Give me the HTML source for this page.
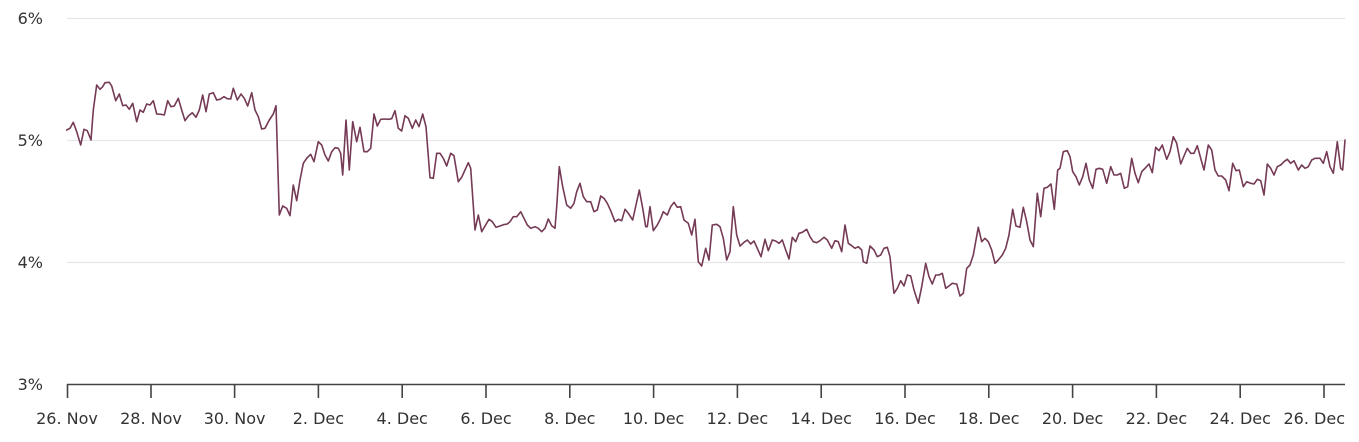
<!DOCTYPE html>
<html>
<head>
<meta charset="utf-8">
<style>
  html, body { margin: 0; padding: 0; background: #ffffff; }
  body { width: 1359px; height: 442px; overflow: hidden; }
  svg { display: block; }
  text { font-family: "DejaVu Sans", "Liberation Sans", sans-serif; font-size: 16px; fill: #333333; }
</style>
</head>
<body>
<svg width="1359" height="442" viewBox="0 0 1359 442" xmlns="http://www.w3.org/2000/svg">
  <rect x="0" y="0" width="1359" height="442" fill="#ffffff"/>
  <g stroke="#e6e6e6" stroke-width="1.2" fill="none">
    <line x1="67" y1="18.5" x2="1345" y2="18.5"/>
    <line x1="67" y1="140.5" x2="1345" y2="140.5"/>
    <line x1="67" y1="262.5" x2="1345" y2="262.5"/>
  </g>
  <g text-anchor="end">
    <text x="43" y="24">6%</text>
    <text x="43" y="146">5%</text>
    <text x="43" y="268">4%</text>
    <text x="43" y="390">3%</text>
  </g>
  <text transform="translate(-1.5,200) rotate(-90)" text-anchor="middle" font-size="14">Yield</text>
  <g stroke="#444444" stroke-width="1.6" fill="none">
    <line x1="67" y1="384.5" x2="1345" y2="384.5"/>
    <line x1="67.5" y1="384" x2="67.5" y2="398"/>
    <line x1="151" y1="384" x2="151" y2="398"/>
    <line x1="234.6" y1="384" x2="234.6" y2="398"/>
    <line x1="318.4" y1="384" x2="318.4" y2="398"/>
    <line x1="402.2" y1="384" x2="402.2" y2="398"/>
    <line x1="486" y1="384" x2="486" y2="398"/>
    <line x1="569.8" y1="384" x2="569.8" y2="398"/>
    <line x1="653.6" y1="384" x2="653.6" y2="398"/>
    <line x1="737.4" y1="384" x2="737.4" y2="398"/>
    <line x1="821.2" y1="384" x2="821.2" y2="398"/>
    <line x1="905" y1="384" x2="905" y2="398"/>
    <line x1="988.8" y1="384" x2="988.8" y2="398"/>
    <line x1="1072.6" y1="384" x2="1072.6" y2="398"/>
    <line x1="1156.4" y1="384" x2="1156.4" y2="398"/>
    <line x1="1240.2" y1="384" x2="1240.2" y2="398"/>
    <line x1="1324" y1="384" x2="1324" y2="398"/>
  </g>
  <g text-anchor="middle">
    <text x="67" y="424">26. Nov</text>
    <text x="151" y="424">28. Nov</text>
    <text x="234.6" y="424">30. Nov</text>
    <text x="318.4" y="424">2. Dec</text>
    <text x="402.2" y="424">4. Dec</text>
    <text x="486" y="424">6. Dec</text>
    <text x="569.8" y="424">8. Dec</text>
    <text x="653.6" y="424">10. Dec</text>
    <text x="737.4" y="424">12. Dec</text>
    <text x="821.2" y="424">14. Dec</text>
    <text x="905" y="424">16. Dec</text>
    <text x="988.8" y="424">18. Dec</text>
    <text x="1072.6" y="424">20. Dec</text>
    <text x="1156.4" y="424">22. Dec</text>
    <text x="1240.2" y="424">24. Dec</text>
  </g>
  <text x="1345" y="424" text-anchor="end">26. Dec</text>
  <polyline fill="none" stroke="#753a55" stroke-width="1.6" stroke-linejoin="round" stroke-linecap="round"
    points="66.7,130 70,128.3 73.3,122.3 76.7,131.7 80.7,145 84,129.3 87.3,130.7 91,140 93.3,110 96.7,85 100,89.3 102.7,86.7 105,82.7 109.3,82.3 111.7,86 115.7,100.7 119.3,94 122.7,105.7 126,105 129.3,109.3 132.7,103.3 136.7,121.7 140,110 143.3,112.3 146.7,104 150,105 153.3,100.7 156.7,114 161,114.3 164.3,115 167.7,100.7 171,106.7 174.3,106 178.3,98.3 181.7,110 185,120.7 188.3,116 192.3,112.7 196,117.3 199.3,110 202.7,95 206,111.7 209.3,94 213.3,92.7 216.7,100 220,99.3 224,96.7 227.3,98.7 230.7,99 233.3,88.3 237.3,100 241,94 244.3,98.3 247.7,106 251.7,92.7 255,110 258.3,116.7 261.7,129 265,128.3 269.3,120 273.3,114 276,105.7 279.3,215 282.7,206 286.7,208.3 290,215.7 293.3,185 296.7,200.7 300,180 303.3,163.3 306.7,158.3 310.7,154.3 314,161.7 318.3,141.7 321.7,145 325,155 328.3,161 331.7,151.7 335,147.7 338.3,148.3 340.7,153.3 342.7,175 346,120 349.3,170 352.7,121.7 356.7,141.7 360,127.3 364,151.7 367.3,151.7 370.7,148.3 374,114 377.3,126 380.7,119.3 385,119 388.3,119.3 391.7,118.7 395,110.7 398.3,128.3 401.7,131 405,115.7 408.3,118.3 412.3,128.3 415.7,120 419,126.7 422.7,114 426,126.7 430,177.7 433.3,178.3 436.7,153.3 440,153.3 443.3,158.3 446.7,166 450.7,153.3 454,155.7 458.3,181.7 461.7,177.3 465,170 468.3,162.7 470.7,168.3 475,230 478.3,215 481.7,231.7 485,226 489,219.3 492.3,221.7 496,227.3 500,226 503.3,224.7 507.3,224 510,221.7 513.3,216.7 516.7,216.7 520.7,211.7 524,218.3 527.3,225 530.7,228.3 535,226.7 538.3,228.3 541.7,231.7 545,228.3 548.3,219 551.7,225.7 555,228.3 556.7,206.7 559.3,166.7 562.7,186.7 566.7,205 570.7,208.3 574,203.3 576.7,191.7 580,183.3 583.3,196.7 586.7,201.7 590.7,201.7 594,211.7 597.3,210 600.7,196 604,198.3 607.3,203.3 610.7,210.7 615,221.7 618.3,219.3 621.7,220.7 625,209.3 628.3,213.3 632.7,220 636,205 639.3,190 642.7,208.3 645.7,226.7 647.3,226.7 650,206.7 653.3,230.7 657.3,225 660.7,218.3 663.3,211.7 667.3,215 670.7,206.7 674,202.3 677.3,207.3 680.7,206.7 684,220 688.3,223.3 691.7,235 695,219.3 698.3,261.7 701.7,266 705.7,248.3 709,260 712.3,225 716.7,224.3 720,226.7 723.3,238.3 726.7,260 730,251.7 733.3,206.7 736.7,235 740,246 744,242.3 747.3,240 750.7,244 754,241 757.3,248.3 761,256.7 765,239.3 768.3,250.7 772.3,240 775.7,241 779,243.3 782.3,240 785.7,250 789,259 792.3,237.3 795.7,241.7 799,233.3 802.3,232.3 806.7,229.3 810,236.7 813.3,241.7 816.7,242.7 820,240.7 824,237.3 827.3,240 831.7,248.3 835,240.7 838.3,241.7 841.7,251.7 845,225 848.3,243.3 851.7,245.7 855,248.3 858.3,246.7 861.7,250 863.3,261.7 866.7,263.3 870,246 874,250 877.3,256.7 880.7,255 884,248.3 887.3,247.3 890,256.7 891.7,273.3 894,293.3 897.3,288.3 900.7,280.7 904,286 907.3,275 910.7,276 914,290 918.3,303.3 921.7,286.7 925.7,263.3 929,276.7 932.3,284 935.7,275 939,275 942.3,273.3 945.7,288.3 949,286 952.3,283.3 956.7,284 960,296 963.3,293.3 966.7,268.3 970,265 973.3,255 976,240 978.3,227.3 981.7,241.7 985,238.3 988.3,241.7 991.7,250 995,263.3 998.3,260 1002.3,255 1005.7,248.3 1009,235 1012.7,209.3 1016,226 1020,227.3 1023.3,207.3 1026.7,221.7 1030,240 1033.3,246.7 1037.3,193.3 1040.7,216.7 1044,188.3 1047.3,187.3 1051,184 1054.3,209.3 1057.7,170 1060,168.3 1063.3,151.7 1067.3,150.7 1070,156.7 1072.7,171.7 1076,176.7 1079.3,185 1082.7,176.7 1086,163.3 1089.3,180 1092.7,188.3 1096,169.3 1099.3,168.3 1102.7,169.3 1106.7,183.3 1110.7,166.7 1114,175 1117.3,175 1120.7,173.3 1124.3,188.3 1127.7,186.7 1131.7,158.3 1135,173.3 1138.3,182.7 1141.7,171.7 1145,168.3 1149,164 1152.3,172.7 1155.7,147.3 1159,150.7 1162.3,145 1166.7,159.3 1170,151.7 1173.3,136.7 1176.7,143.3 1180.7,164 1184,156 1187.3,148.3 1190.7,153.3 1194,153.3 1197.3,145.7 1200.7,158.3 1204,170 1208.3,145 1211.7,150 1215,170 1218.3,176 1221.7,176 1225.7,180 1229,190.7 1232.7,163.3 1236,170.7 1239.3,170 1243.3,186.7 1246.7,181.7 1250.7,183.3 1254,184 1257.3,179.3 1260.7,180.7 1264,195 1267.3,164 1270.7,168.3 1274,175 1277.3,166.7 1280.7,165 1284,161.7 1287.3,159.3 1290.7,163.3 1294,160.7 1298.3,170 1301.7,165 1305,168.3 1308.3,166.7 1311.7,160 1315,158.3 1320,158.3 1323.3,163.3 1326.7,151.7 1330,166.7 1333.3,173.3 1337.3,141.7 1340.7,168.3 1342.7,170 1345,140"/>
</svg>
</body>
</html>
